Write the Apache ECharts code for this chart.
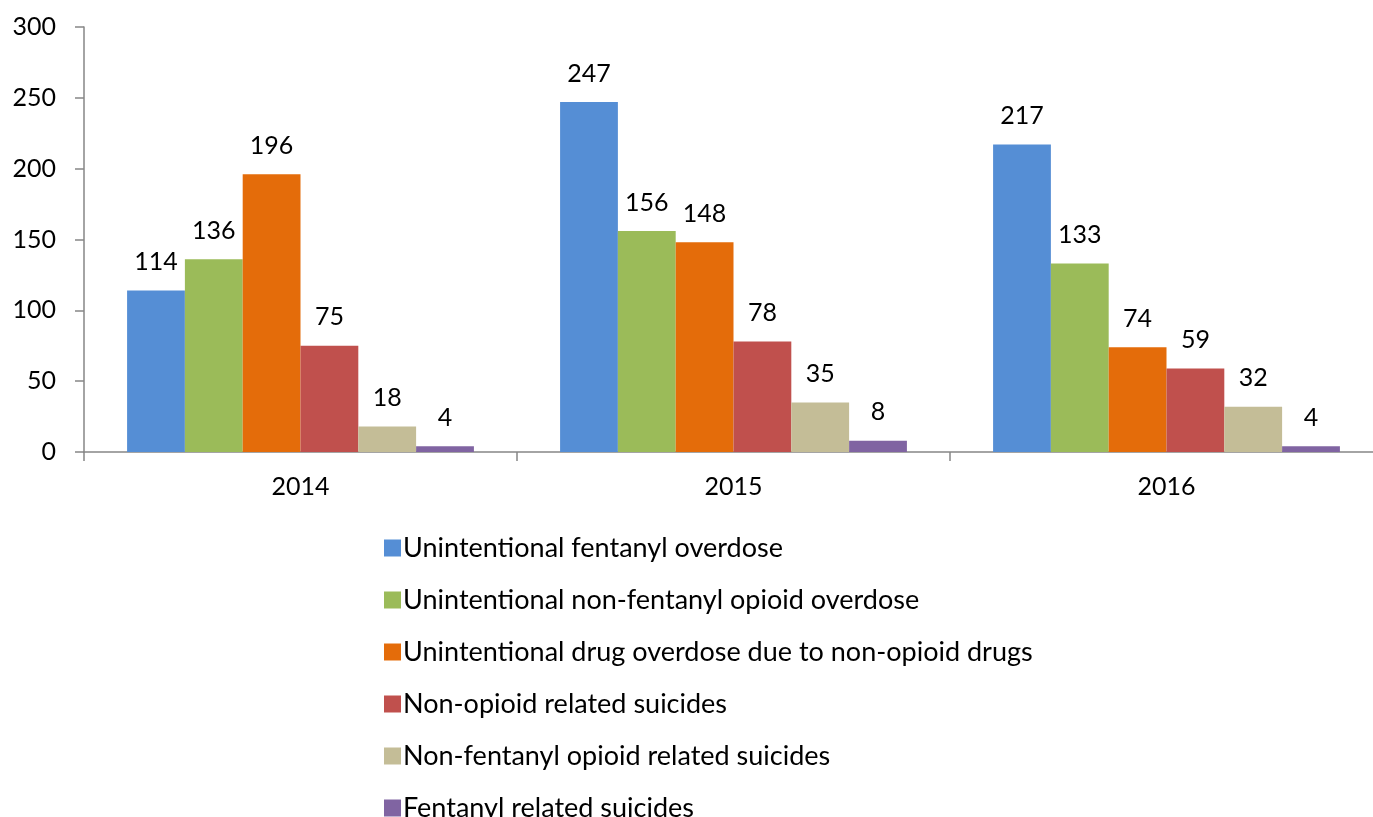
<!DOCTYPE html>
<html>
<head>
<meta charset="utf-8">
<script src="https://cdn.jsdelivr.net/npm/echarts@6/dist/echarts.min.js"></script>
<style>html,body{margin:0;padding:0;background:#fff}#c{width:1373px;height:817px}</style>
</head>
<body>
<div id="c"></div>
<script>
const categories = ['2014', '2015', '2016'];
const seriesNames = [
  'Unintentional fentanyl overdose',
  'Unintentional non-fentanyl opioid overdose',
  'Unintentional drug overdose due to non-opioid drugs',
  'Non-opioid related suicides',
  'Non-fentanyl opioid related suicides',
  'Fentanyl related suicides'
];
const fentanylOverdose = [114, 247, 217];
const nonFentanylOpioidOverdose = [136, 156, 133];
const nonOpioidDrugOverdose = [196, 148, 74];
const nonOpioidSuicides = [75, 78, 59];
const nonFentanylOpioidSuicides = [18, 35, 32];
const fentanylSuicides = [4, 8, 4];
const colors = ['#558ED5', '#9BBB59', '#E46C0A', '#C0504D', '#C4BD97', '#8064A2'];
const yTicks = [0, 50, 100, 150, 200, 250, 300];

const values = [fentanylOverdose, nonFentanylOpioidOverdose, nonOpioidDrugOverdose,
  nonOpioidSuicides, nonFentanylOpioidSuicides, fentanylSuicides];
const FONT = 'Lato';

const chart = echarts.init(document.getElementById('c'), null, {renderer: 'canvas'});
chart.setOption({
  animation: false,
  color: colors,
  textStyle: {fontFamily: FONT},
  grid: {left: 84, width: 1299, top: 27, bottom: 365, containLabel: false, outerBoundsMode: 'none'},
  legend: {
    orient: 'vertical',
    left: 379,
    top: 528,
    height: 600,
    itemWidth: 17,
    itemHeight: 17,
    itemGap: 22,
    icon: 'rect',
    textStyle: {fontFamily: FONT, fontSize: 27, color: '#000', lineHeight: 30, padding: [0, 0, 0, -3]},
    data: seriesNames
  },
  xAxis: {
    type: 'category',
    data: categories,
    axisLine: {lineStyle: {color: '#868686', width: 1.5}},
    axisTick: {show: true, length: 9, lineStyle: {color: '#868686', width: 1.5}},
    axisLabel: {fontFamily: FONT, fontSize: 25, color: '#000', margin: 22}
  },
  yAxis: {
    type: 'value',
    min: yTicks[0],
    max: yTicks[yTicks.length - 1],
    interval: 50,
    splitLine: {show: false},
    axisLine: {show: true, lineStyle: {color: '#868686', width: 1.5}},
    axisTick: {show: true, length: 9, lineStyle: {color: '#868686', width: 1.5}},
    axisLabel: {fontFamily: FONT, fontSize: 25, color: '#000', margin: 28}
  },
  series: seriesNames.map((name, i) => ({
    name: name,
    type: 'bar',
    data: values[i],
    barGap: '0%',
    barCategoryGap: '19.9%',
    itemStyle: {color: colors[i]},
    label: {show: true, position: 'top', distance: 16, fontFamily: FONT, fontSize: 25, color: '#000'}
  }))
});
</script>
</body>
</html>
